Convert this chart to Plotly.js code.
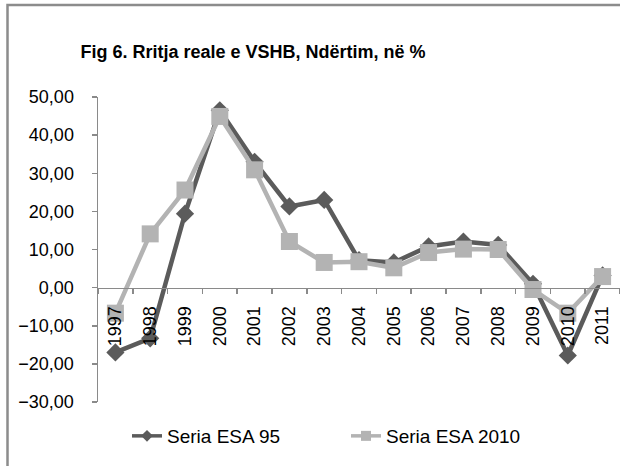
<!DOCTYPE html>
<html>
<head>
<meta charset="utf-8">
<script src="https://cdn.plot.ly/plotly-3.0.1.min.js"></script>
<style>
html,body{margin:0;padding:0;background:#fff;overflow:hidden;}
#chart{width:620px;height:466px;}
</style>
</head>
<body>
<div id="chart"></div>
<script>
const years = ["1997","1998","1999","2000","2001","2002","2003","2004","2005","2006","2007","2008","2009","2010","2011"];
const esa95 = [-17.0, -13.3, 19.4, 46.5, 33.0, 21.3, 23.0, 7.2, 6.6, 10.8, 12.1, 11.2, 1.0, -17.8, 3.2];
const esa2010 = [-6.7, 14.1, 25.6, 44.9, 30.9, 12.1, 6.6, 6.8, 5.2, 9.2, 10.1, 10.0, -0.5, -6.7, 2.9];
const yTicks = [-30, -20, -10, 0, 10, 20, 30, 40, 50];
const names = ["Seria ESA 95", "Seria ESA 2010"];

const font = "Liberation Sans, Arial, sans-serif";
const dark = "#5b5b5b", light = "#b3b3b3";
const traces = [
  {
    x: years, y: esa95, name: names[0], type: "scatter", mode: "lines+markers", showlegend: false,
    line: {color: dark, width: 4.5},
    marker: {symbol: "diamond", size: 14, color: dark}
  },
  {
    x: years, y: esa2010, name: names[1], type: "scatter", mode: "lines+markers", showlegend: false,
    line: {color: light, width: 4.5},
    marker: {symbol: "square", size: 17, color: light}
  },
  // legend keys only (no data points)
  {
    x: [null], y: [null], name: names[0], type: "scatter", mode: "lines+markers",
    line: {color: dark, width: 3.5}, marker: {symbol: "diamond", size: 9, color: dark}
  },
  {
    x: [null], y: [null], name: names[1], type: "scatter", mode: "lines+markers",
    line: {color: light, width: 3.5}, marker: {symbol: "square", size: 10, color: light}
  }
];

const layout = {
  width: 620, height: 466,
  margin: {l: 98, r: 0, t: 97, b: 64},
  paper_bgcolor: "#ffffff", plot_bgcolor: "rgba(0,0,0,0)",
  separators: ",.",
  font: {family: font, size: 15, color: "#000"},
  title: {
    text: "<b>Fig 6. Rritja reale e VSHB, Ndërtim, në %</b>",
    font: {family: font, size: 18, color: "#000"},
    x: 253/620, xanchor: "center", xref: "container",
    y: 1 - 52/466, yanchor: "middle", yref: "container"
  },
  xaxis: {
    type: "category", range: [-0.5, 14.5],
    anchor: "free", position: 30/80,
    showline: true, linecolor: "#8a8a8a", linewidth: 1.5,
    ticks: "outside", tickson: "boundaries", ticklen: 5, tickcolor: "#8a8a8a", tickwidth: 1.5,
    tickangle: -90, ticklabelstandoff: 10,
    tickfont: {family: font, size: 18, color: "#000"},
    showgrid: false, zeroline: false, fixedrange: true
  },
  yaxis: {
    range: [-30, 50], domain: [0, 1],
    tickvals: yTicks, tickformat: ".2f",
    showline: true, linecolor: "#8a8a8a", linewidth: 1.5,
    ticks: "outside", ticklen: 5, tickcolor: "#8a8a8a", tickwidth: 1.5,
    ticklabelstandoff: 14,
    tickfont: {family: font, size: 18, color: "#000"},
    showgrid: false, zeroline: false, fixedrange: true
  },
  showlegend: true,
  legend: {
    orientation: "h", xref: "container", yref: "container",
    x: 127/620, xanchor: "left", y: 1 - 436/466, yanchor: "middle",
    font: {family: font, size: 19, color: "#000"},
    entrywidth: 174, entrywidthmode: "pixels",
    bgcolor: "rgba(0,0,0,0)"
  },
  shapes: [
    {type: "rect", xref: "paper", yref: "paper",
     x0: (7.5 - 98) / 522, x1: 1.1, y0: -0.5, y1: 1 + 92/305,
     line: {color: "#8c8c8c", width: 2.5}, fillcolor: "rgba(0,0,0,0)", layer: "below"}
  ]
};

Plotly.newPlot("chart", traces, layout, {staticPlot: true, displayModeBar: false});
</script>
</body>
</html>
